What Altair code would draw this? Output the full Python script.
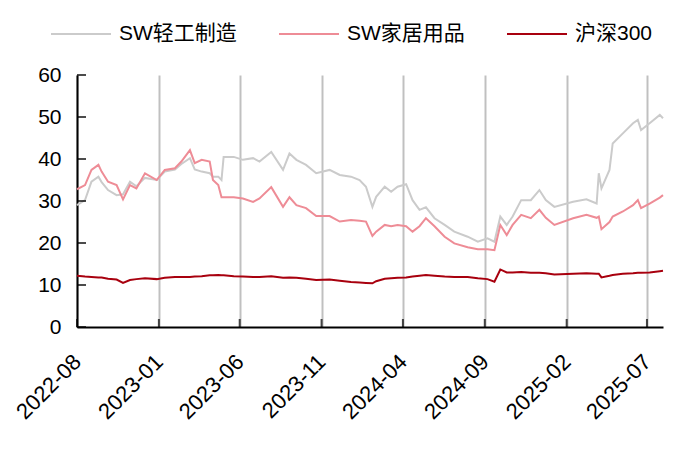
import altair as alt
import pandas as pd

FONT = "Liberation Sans, Arial, Noto Sans CJK SC"

dates = [
    "2022-08-01", "2022-08-16", "2022-08-28", "2022-09-10", "2022-09-16", "2022-09-28",
    "2022-10-14", "2022-10-26", "2022-11-08", "2022-11-20", "2022-12-06", "2022-12-28",
    "2023-01-12", "2023-01-31", "2023-02-12", "2023-02-28", "2023-03-09", "2023-03-22",
    "2023-04-06", "2023-04-12", "2023-04-22", "2023-04-28", "2023-05-02", "2023-05-21",
    "2023-06-07", "2023-06-26", "2023-07-08", "2023-07-30", "2023-08-21", "2023-09-02",
    "2023-09-15", "2023-10-03", "2023-10-22", "2023-11-16", "2023-12-05", "2023-12-26",
    "2024-01-11", "2024-01-23", "2024-02-04", "2024-02-11", "2024-02-27", "2024-03-10",
    "2024-03-22", "2024-04-07", "2024-04-19", "2024-05-02", "2024-05-14", "2024-05-30",
    "2024-06-18", "2024-07-06", "2024-07-31", "2024-08-19", "2024-09-06", "2024-09-19",
    "2024-09-30", "2024-10-12", "2024-10-23", "2024-11-08", "2024-11-26", "2024-12-12",
    "2024-12-24", "2025-01-09", "2025-02-13", "2025-03-10", "2025-03-29", "2025-04-02",
    "2025-04-07", "2025-04-22", "2025-04-28", "2025-05-17", "2025-06-05", "2025-06-14",
    "2025-06-20", "2025-07-06", "2025-07-25", "2025-07-31",
]

# SW轻工制造
light_industry = [
    29.0, 30.2, 34.6, 35.8, 34.5, 32.6,
    31.4, 31.6, 34.6, 33.5, 35.5, 35.0,
    37.0, 37.5, 38.8, 40.2, 37.5, 37.0,
    36.6, 35.8, 35.8, 35.0, 40.5, 40.5,
    39.8, 40.2, 39.4, 41.7, 37.4, 41.3,
    39.8, 38.6, 36.6, 37.4, 36.2, 35.8,
    35.0, 33.4, 28.6, 31.0, 33.4, 32.2,
    33.4, 34.0, 30.2, 27.9, 28.5, 25.9,
    24.3, 22.7, 21.5, 20.3, 21.1, 20.3,
    26.3, 24.3, 26.3, 30.2, 30.2, 32.6,
    30.2, 28.6, 29.8, 30.4, 29.4, 36.6,
    33.0, 37.4, 43.7, 46.1, 48.5, 49.3,
    46.9, 48.5, 50.5, 49.7,
]

# SW家居用品
home_goods = [
    32.8, 33.8, 37.4, 38.6, 37.0, 34.6,
    33.8, 30.4, 33.8, 33.0, 36.6, 35.0,
    37.4, 37.8, 39.4, 42.1, 39.0, 39.8,
    39.4, 35.0, 33.8, 30.9, 30.9, 30.9,
    30.6, 29.8, 30.6, 33.3, 28.6, 30.9,
    29.0, 28.3, 26.4, 26.4, 25.1, 25.5,
    25.3, 25.1, 21.7, 22.7, 24.3, 24.0,
    24.3, 24.0, 22.7, 24.0, 25.9, 24.0,
    21.5, 19.9, 19.0, 18.5, 18.5, 18.3,
    24.3, 21.9, 24.3, 26.7, 25.9, 27.9,
    26.0, 24.3, 25.9, 26.7, 26.0, 26.3,
    23.3, 25.0, 26.3, 27.5, 29.0, 30.2,
    28.3, 29.4, 30.8, 31.4,
]

# 沪深300
csi300 = [
    12.2, 12.0, 11.9, 11.8, 11.8, 11.5,
    11.3, 10.5, 11.2, 11.4, 11.6, 11.4,
    11.7, 11.9, 11.9, 11.9, 12.0, 12.1,
    12.3, 12.3, 12.4, 12.3, 12.3, 12.1,
    12.0, 11.9, 11.9, 12.1, 11.7, 11.8,
    11.7, 11.5, 11.2, 11.3, 11.0, 10.7,
    10.6, 10.5, 10.4, 10.9, 11.5, 11.6,
    11.7, 11.8, 12.0, 12.2, 12.4, 12.2,
    12.0, 11.9, 11.9, 11.6, 11.4, 10.8,
    13.7, 13.0, 13.0, 13.1, 12.9, 12.9,
    12.8, 12.5, 12.7, 12.8, 12.7, 12.7,
    11.8, 12.2, 12.4, 12.7, 12.8, 12.9,
    12.9, 13.0, 13.3, 13.4,
]

series_names = ["SW轻工制造", "SW家居用品", "沪深300"]
series_colors = ["#cbcbcb", "#ee8c96", "#a8000e"]
x_tick_dates = ["2022-08-01", "2023-01-01", "2023-06-01", "2023-11-01",
                "2024-04-01", "2024-09-01", "2025-02-01", "2025-07-01"]
y_tick_values = [0, 10, 20, 30, 40, 50, 60]

frames = []
for name, vals in zip(series_names, [light_industry, home_goods, csi300]):
    frames.append(pd.DataFrame({"date": pd.to_datetime(dates), "series": name, "value": vals}))
df = pd.concat(frames, ignore_index=True)

ticks_x = pd.DataFrame({"date": pd.to_datetime(x_tick_dates)})
ticks_y = pd.DataFrame({"value": y_tick_values})


def dt(s):
    y, m, d = (int(p) for p in s.split("-"))
    return alt.DateTime(year=y, month=m, date=d)


x_scale = alt.Scale(domain=[dt("2022-08-01"), dt("2025-07-31")])
y_scale = alt.Scale(domain=[0, 60], nice=False)

x_axis = alt.Axis(values=[dt(s) for s in x_tick_dates], format="%Y-%m",
                  labelAngle=-45, labelAlign="right", labelBaseline="middle",
                  labelPadding=31, labelFontSize=22, tickSize=0, grid=True,
                  gridColor="#c0c0c0", gridWidth=2, labelFlush=False,
                  labelOverlap=False)
y_axis = alt.Axis(values=y_tick_values, tickSize=0, grid=False, labelPadding=16)

lines = alt.Chart(df).mark_line(strokeWidth=2).encode(
    x=alt.X("date:T", scale=x_scale, title=None, axis=x_axis),
    y=alt.Y("value:Q", scale=y_scale, title=None, axis=y_axis),
    color=alt.Color("series:N", title=None,
                    scale=alt.Scale(domain=series_names, range=series_colors),
                    legend=alt.Legend(orient="none", direction="horizontal",
                                      legendX=-27, legendY=-72, symbolType="stroke",
                                      symbolSize=3600, symbolStrokeWidth=2,
                                      labelFontSize=21, labelFont=FONT, labelOffset=7,
                                      columnPadding=38, labelLimit=300, padding=0)),
    order="date:T",
)

# inward tick marks on both axes
x_ticks = alt.Chart(ticks_x).mark_tick(color="black", thickness=2, size=8).encode(
    x=alt.X("date:T", title=None, axis=x_axis),
    y=alt.value(248),
)

y_ticks = alt.Chart(ticks_y).mark_tick(color="black", thickness=2, size=9).encode(
    y=alt.Y("value:Q", title=None, axis=y_axis),
    x=alt.value(4.5),
)

chart = alt.layer(lines, x_ticks, y_ticks).properties(
    width=586, height=252,
    autosize=alt.AutoSizeParams(type="none"),
    padding={"left": 69, "top": 67, "right": 29, "bottom": 114},
).configure_view(strokeWidth=0).configure_axis(
    labelFont=FONT, labelFontSize=21, labelColor="black",
    domainColor="black", domainWidth=2,
)

chart.save("out.html", embed_options={"renderer": "svg", "actions": False})
